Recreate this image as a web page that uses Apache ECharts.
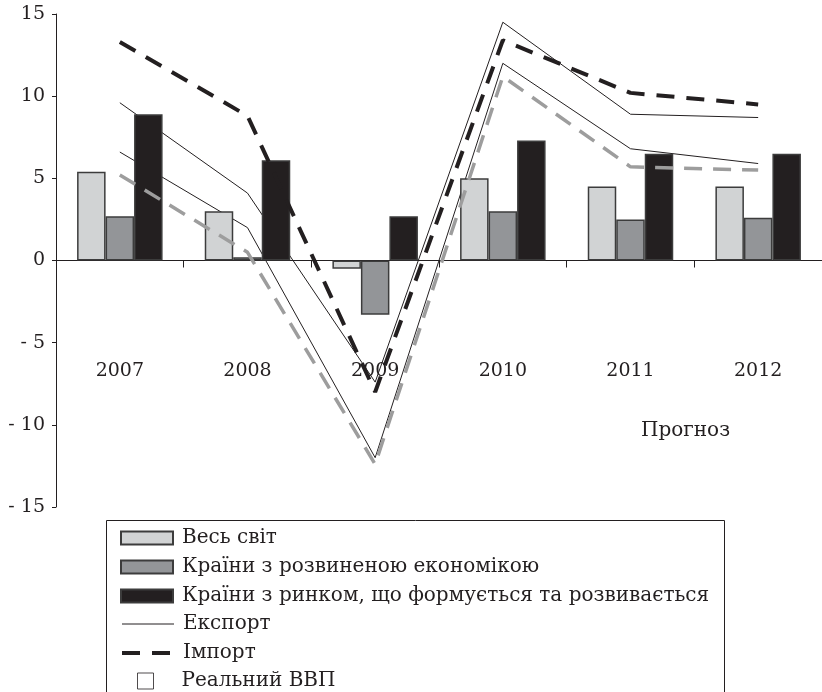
<!DOCTYPE html>
<html>
<head>
<meta charset="utf-8">
<script src="https://cdn.jsdelivr.net/npm/echarts@6/dist/echarts.min.js"></script>
<style>html,body{margin:0;padding:0;background:#fff}#c{width:822px;height:692px}</style>
</head>
<body>
<div id="c"></div>
<script>
var categories = ['2007', '2008', '2009', '2010', '2011', '2012'];
var yTicks = [-15, -10, -5, 0, 5, 10, 15];
var world = [5.4, 3.0, -0.5, 5.0, 4.5, 4.5];
var advanced = [2.7, 0.2, -3.3, 3.0, 2.5, 2.6];
var emerging = [8.9, 6.1, 2.7, 7.3, 6.5, 6.5];
var exportUpper = [9.6, 4.1, -7.4, 14.5, 8.9, 8.7];
var exportLower = [6.6, 2.0, -12.0, 12.0, 6.8, 5.9];
var importBlack = [13.3, 8.8, -8.0, 13.4, 10.2, 9.5];
var importGray = [5.2, 0.5, -12.4, 11.2, 5.7, 5.5];

var FONT = 'DejaVu Serif';
var GRID_TOP = 14, GRID_BOTTOM = 185, H = 692;
var yMin = yTicks[0], yMax = yTicks[yTicks.length - 1];
var plotH = H - GRID_TOP - GRID_BOTTOM;
// distance from grid bottom up to the zero line, so the category axis sits on zero
var zeroOffset = plotH * (0 - yMin) / (yMax - yMin);

var chart = echarts.init(document.getElementById('c'));
var barBorder = {borderColor: '#3c3c3c', borderWidth: 1.5};
var legendText = {fontFamily: FONT, fontSize: 20, color: '#231f20', lineHeight: 20, padding: [0, 0, 0, 4]};
chart.setOption({
  animation: false,
  grid: {left: 56, right: 0, top: GRID_TOP, bottom: GRID_BOTTOM},
  xAxis: {
    type: 'category',
    data: categories,
    position: 'bottom',
    offset: -zeroOffset,
    axisLine: {onZero: false, lineStyle: {color: '#231f20', width: 1}},
    axisTick: {show: true, length: 7, lineStyle: {color: '#231f20'}},
    axisLabel: {margin: 101, fontFamily: FONT, fontSize: 19, color: '#231f20'},
    splitLine: {show: false}
  },
  yAxis: {
    type: 'value',
    min: yMin, max: yMax, interval: 5,
    axisLine: {show: true, lineStyle: {color: '#231f20', width: 1}},
    axisTick: {show: true, length: 4, lineStyle: {color: '#231f20'}},
    splitLine: {show: false},
    axisLabel: {
      margin: 11, fontFamily: FONT, fontSize: 19, color: '#231f20',
      formatter: function (v) { return v < 0 ? '- ' + Math.abs(v) : String(v); }
    }
  },
  legend: [
    {
      orient: 'vertical', left: 120, top: 528, padding: 0,
      itemWidth: 52, itemHeight: 13, itemGap: 9, icon: 'rect',
      textStyle: legendText,
      data: ['Весь світ', 'Країни з розвиненою економікою', 'Країни з ринком, що формується та розвивається'],
      selectedMode: false
    },
    {
      orient: 'vertical', left: 120, top: 614, padding: 0,
      itemWidth: 52, itemHeight: 13, itemGap: 9,
      itemStyle: {opacity: 0},
      lineStyle: {width: 'inherit'},
      textStyle: legendText,
      data: ['Експорт', 'Імпорт'],
      selectedMode: false
    },
    {
      orient: 'vertical', left: 137, top: 671, padding: 0,
      itemWidth: 16, itemHeight: 16,
      textStyle: {fontFamily: FONT, fontSize: 20, color: '#231f20', lineHeight: 20, padding: [0, 0, 0, 23]},
      data: [{name: 'Реальний ВВП', icon: 'rect', itemStyle: {color: '#ffffff', borderColor: '#231f20', borderWidth: 1}}],
      selectedMode: false
    }
  ],
  graphic: [
    {type: 'rect', left: 104, top: 518, shape: {width: 618, height: 190},
     style: {fill: 'none', stroke: '#231f20', lineWidth: 1}, z: 1},
    {type: 'text', left: 641, top: 421,
     style: {text: 'Прогноз', font: '20px "DejaVu Serif"', fill: '#231f20'}}
  ],
  series: [
    {name: 'Експорт', type: 'line', data: exportUpper, symbol: 'none', z: 1,
     lineStyle: {color: '#231f20', width: 1}, itemStyle: {color: '#231f20'}},
    {name: 'Експорт', type: 'line', data: exportLower, symbol: 'none', z: 1,
     lineStyle: {color: '#231f20', width: 1}, itemStyle: {color: '#231f20'}},
    {name: 'Весь світ', type: 'bar', data: world, barWidth: 28.5, barGap: '0%', z: 2,
     itemStyle: Object.assign({color: '#d1d3d4'}, barBorder)},
    {name: 'Країни з розвиненою економікою', type: 'bar', data: advanced, barWidth: 28.5, barGap: '0%', z: 2,
     itemStyle: Object.assign({color: '#939598'}, barBorder)},
    {name: 'Країни з ринком, що формується та розвивається', type: 'bar', data: emerging, barWidth: 28.5, barGap: '0%', z: 2,
     itemStyle: Object.assign({color: '#231f20'}, barBorder)},
    {name: 'Імпорт (розвинені)', type: 'line', data: importGray, symbol: 'none', z: 3,
     lineStyle: {color: '#9d9d9d', width: 3.5, type: [18, 11]}, itemStyle: {color: '#9d9d9d'}},
    {name: 'Імпорт', type: 'line', data: importBlack, symbol: 'none', z: 3,
     lineStyle: {color: '#231f20', width: 4, type: [18, 12]}, itemStyle: {color: '#231f20'}},
    {name: 'Реальний ВВП', type: 'scatter', data: [], symbol: 'rect',
     itemStyle: {color: '#ffffff', borderColor: '#231f20', borderWidth: 1}}
  ]
});
</script>
</body>
</html>
